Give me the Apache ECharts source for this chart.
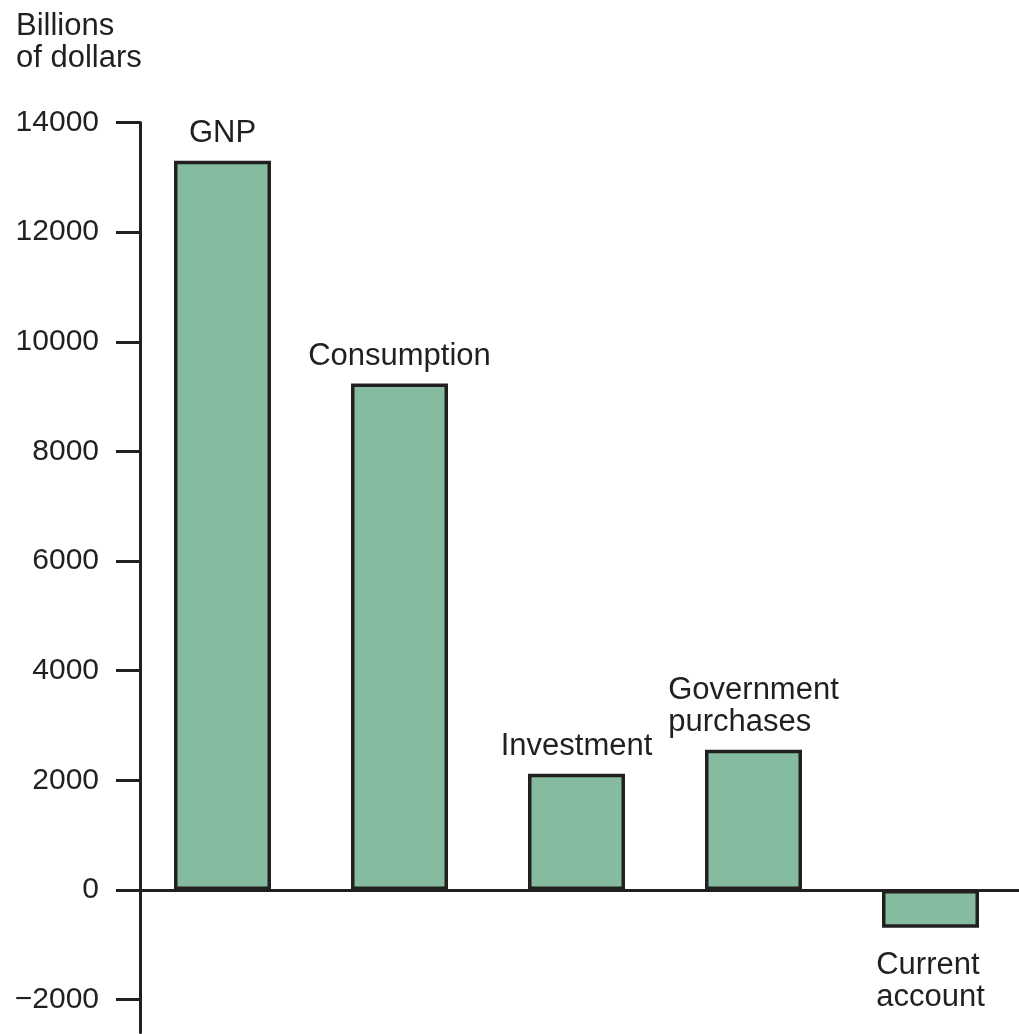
<!DOCTYPE html>
<html><head><meta charset="utf-8">
<script src="https://cdn.jsdelivr.net/npm/echarts@6/dist/echarts.min.js"></script>
<style>html,body{margin:0;padding:0;background:#fff}#c{width:1019px;height:1034px}</style>
</head><body><div id="c"></div>
<script>
const categories = ['GNP', 'Consumption', 'Investment', 'Government\npurchases', 'Current\naccount'];
const values = [13300, 9240, 2120, 2560, -690];
const tickValues = [-2000, 0, 2000, 4000, 6000, 8000, 10000, 12000, 14000];
const FONT = '"Liberation Sans", Arial, Helvetica, sans-serif';
const INK = '#231f20';

const chart = echarts.init(document.getElementById('c'));
chart.setOption({
  animation: false,
  title: {
    text: 'Billions\nof dollars', left: 11, top: 5,
    textStyle: { fontFamily: FONT, fontSize: 31, lineHeight: 32, fontWeight: 'normal', color: INK }
  },
  grid: { left: 134, right: -3, top: 122.5, bottom: 1.5, containLabel: false },
  xAxis: {
    type: 'category', data: categories,
    axisLine: { onZero: true, lineStyle: { color: INK, width: 3 } },
    axisTick: { show: false }, axisLabel: { show: false }, splitLine: { show: false }
  },
  yAxis: {
    type: 'value', min: -2600, max: 14000, offset: -6,
    axisLine: { show: true, lineStyle: { color: INK, width: 3 } },
    axisTick: { show: true, length: 24, customValues: tickValues, lineStyle: { color: INK, width: 3 } },
    axisLabel: { customValues: tickValues, margin: 41, fontFamily: FONT, fontSize: 30, color: INK,
      formatter: v => v < 0 ? '\u2212' + Math.abs(v) : String(v) },
    splitLine: { show: false }
  },
  series: [{
    type: 'bar', barWidth: 97,
    data: values.map((v, i) => ({
      value: v,
      label: { position: v < 0 ? 'bottom' : 'top', distance: v < 0 ? 22 : 11 }
    })),
    itemStyle: { color: '#85bc9f', borderColor: INK, borderWidth: 3.5 },
    label: {
      show: true,
      formatter: p => categories[p.dataIndex].split('\n').map(s => '{a|' + s + '}').join('\n'),
      rich: { a: { fontFamily: FONT, fontSize: 31, lineHeight: 32, color: INK, align: 'left' } }
    }
  }]
});
</script></body></html>
